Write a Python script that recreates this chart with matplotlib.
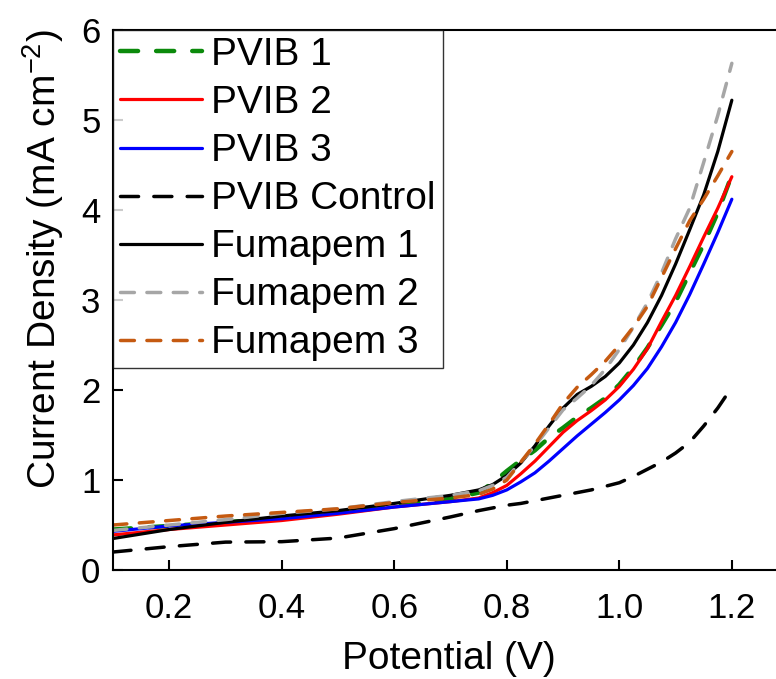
import matplotlib
matplotlib.use("Agg")
import matplotlib.pyplot as plt

plt.rcParams['font.family'] = ['Liberation Sans', 'DejaVu Sans']
plt.rcParams['mathtext.fontset'] = 'custom'
plt.rcParams['mathtext.rm'] = 'Liberation Sans'
plt.rcParams['lines.scale_dashes'] = False

# potential grid (V) shared by all curves
potential = [0.1, 0.2, 0.3, 0.4, 0.5, 0.6, 0.7, 0.75, 0.775, 0.8, 0.825, 0.85, 0.875,
             0.9, 0.925, 0.95, 0.975, 1.0, 1.025, 1.05, 1.075, 1.1, 1.125, 1.15, 1.175, 1.2]

# current density (mA cm-2)
pvib_1 = [0.45, 0.49, 0.53, 0.58, 0.64, 0.71, 0.79, 0.86, 0.97, 1.10, 1.22, 1.33, 1.47,
          1.58, 1.70, 1.80, 1.91, 2.06, 2.25, 2.47, 2.72, 2.98, 3.30, 3.62, 3.97, 4.39]
pvib_2 = [0.39, 0.45, 0.50, 0.55, 0.62, 0.70, 0.76, 0.80, 0.86, 0.94, 1.07, 1.21, 1.37,
          1.53, 1.66, 1.77, 1.89, 2.04, 2.23, 2.46, 2.76, 3.05, 3.37, 3.70, 4.02, 4.37]
pvib_3 = [0.43, 0.49, 0.53, 0.57, 0.63, 0.70, 0.76, 0.79, 0.83, 0.89, 0.98, 1.08, 1.21,
          1.35, 1.49, 1.62, 1.75, 1.89, 2.05, 2.24, 2.48, 2.75, 3.06, 3.40, 3.75, 4.12]
pvib_control = [0.20, 0.26, 0.31, 0.315, 0.355, 0.46, 0.59, 0.66, 0.69, 0.72, 0.74, 0.77, 0.80,
                0.83, 0.86, 0.89, 0.93, 0.97, 1.04, 1.12, 1.20, 1.30, 1.42, 1.60, 1.80, 2.03]
fumapem_1 = [0.35, 0.45, 0.53, 0.60, 0.66, 0.74, 0.83, 0.89, 0.95, 1.05, 1.19, 1.38, 1.60,
             1.80, 1.95, 2.04, 2.15, 2.30, 2.50, 2.75, 3.05, 3.40, 3.78, 4.17, 4.65, 5.22]
fumapem_2 = [0.44, 0.50, 0.56, 0.63, 0.68, 0.76, 0.83, 0.88, 0.94, 1.03, 1.20, 1.38, 1.58,
             1.78, 1.91, 2.05, 2.23, 2.45, 2.70, 2.97, 3.30, 3.68, 4.02, 4.53, 5.05, 5.63]
fumapem_3 = [0.50, 0.55, 0.60, 0.64, 0.68, 0.75, 0.80, 0.84, 0.90, 1.00, 1.20, 1.40, 1.62,
             1.85, 2.03, 2.17, 2.32, 2.50, 2.70, 2.93, 3.25, 3.57, 3.88, 4.12, 4.38, 4.65]

labels = ['PVIB 1', 'PVIB 2', 'PVIB 3', 'PVIB Control', 'Fumapem 1', 'Fumapem 2', 'Fumapem 3']
series = [pvib_1, pvib_2, pvib_3, pvib_control, fumapem_1, fumapem_2, fumapem_3]
colors = ['#0b8a0b', '#ff0000', '#0000ff', '#000000', '#000000', '#a6a6a6', '#c55a11']
widths = [3.2, 2.3, 2.3, 2.5, 2.3, 2.5, 2.5]
dashes = [(13, 13), None, None, (13, 11), None, (10, 9), (10, 9)]

fig = plt.figure(figsize=(7.76, 6.79), dpi=100)
ax = fig.add_axes([0.1456, 0.1605, 0.8700, 0.7953])

for y, lab, c, lw, d in zip(series, labels, colors, widths, dashes):
    line, = ax.plot(potential, y, color=c, lw=lw, label=lab, solid_capstyle='round',
                    dash_capstyle='round', solid_joinstyle='round')
    if d is not None:
        line.set_dashes(d)

ax.set_xlim(0.1, 1.3)
ax.set_ylim(0, 6)
ax.set_xticks([0.2, 0.4, 0.6, 0.8, 1.0, 1.2])
ax.set_xticklabels(['0.2', '0.4', '0.6', '0.8', '1.0', '1.2'])
ax.set_yticks([0, 1, 2, 3, 4, 5, 6])

ax.tick_params(direction='in', length=7, width=1.5, labelsize=25)
ax.tick_params(axis='x', pad=16)
ax.tick_params(axis='y', pad=9)
for s in ax.spines.values():
    s.set_linewidth(1.5)
ax.spines['right'].set_visible(False)

ax.set_xlabel('Potential (V)', fontsize=28)
ax.xaxis.set_label_coords(0.498, -0.132)
ax.set_ylabel('Current Density (mA cm$^{\\mathregular{-2}}$)', fontsize=28)
ax.yaxis.set_label_coords(-0.07, 0.575)

leg = ax.legend(loc='upper left', fontsize=28, frameon=True, fancybox=False,
                borderaxespad=0, handlelength=2.1, handletextpad=0.25,
                labelspacing=0.31, borderpad=0.18)
leg.get_frame().set_edgecolor('black')
leg.get_frame().set_linewidth(1.0)

fig.savefig('out.png', dpi=100)
